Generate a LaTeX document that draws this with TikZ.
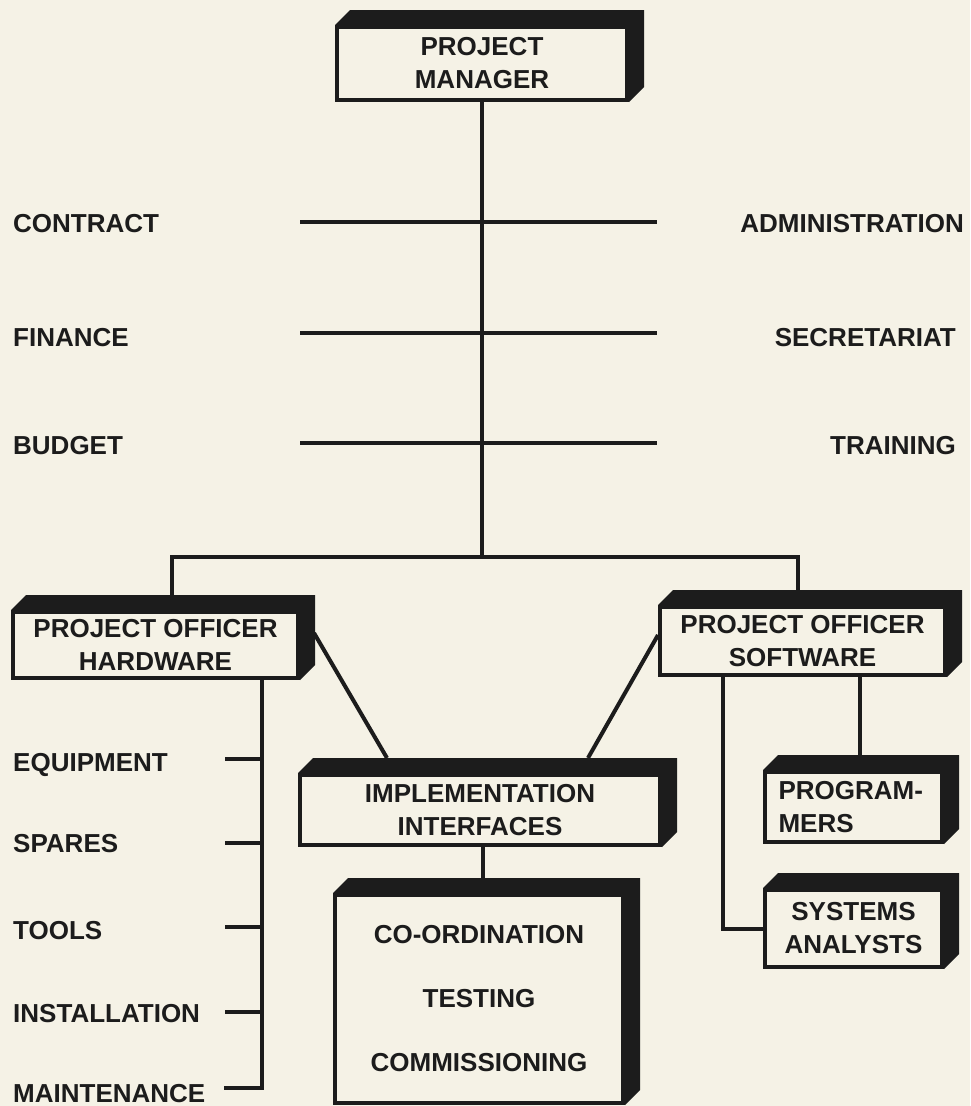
\documentclass[tikz,border=0pt]{standalone}
\usepackage{fontspec}
\setmainfont{Liberation Sans}
\definecolor{paper}{HTML}{F5F2E6}
\definecolor{ink}{HTML}{1C1C1C}
\tikzset{
  conn/.style={draw=ink, line width=4pt},
  orgbox/.style={draw=ink, fill=paper, line width=4pt, inner sep=0pt, align=center,
    text=ink, font=\bfseries\fontsize{26}{33}\selectfont},
  lbl/.style={inner sep=0pt, text=ink, font=\bfseries\fontsize{26}{31}\selectfont},
}
% black top and right face of a box
\newcommand{\slab}[1]{%
  \fill[ink] (#1.north west) -- ++(15,-15) -| ([shift={(15,-15)}]#1.south east)
    -- (#1.south east) -- (#1.north east) -- cycle;}

\begin{document}
\begin{tikzpicture}[x=1pt,y=-1pt]
  \fill[paper] (0,0) rectangle (970,1106);
  \useasboundingbox (0,0) rectangle (970,1106);

  % boxes
  \node[orgbox, minimum width=290, minimum height=73] (pm) at (482,63.5) {PROJECT\\MANAGER};
  \node[orgbox, minimum width=285, minimum height=66] (pohw) at (155.5,645) {PROJECT OFFICER\\HARDWARE};
  \node[orgbox, minimum width=285, minimum height=68] (posw) at (802.5,641) {PROJECT OFFICER\\SOFTWARE};
  \node[orgbox, minimum width=360, minimum height=70] (impl) at (480,810) {IMPLEMENTATION\\INTERFACES};
  \node[orgbox, minimum width=288, minimum height=208, font=\bfseries\fontsize{26}{64}\selectfont] (coord) at (479,999)
    {CO-ORDINATION\\TESTING\\COMMISSIONING};
  \node[orgbox, minimum width=177, minimum height=70, text width=150, align=left] (prog) at (853.5,807) {PROGRAM-\\MERS};
  \node[orgbox, minimum width=177, minimum height=77] (sysan) at (853.5,928.5) {SYSTEMS\\ANALYSTS};
  \slab{pm} \slab{pohw} \slab{posw} \slab{impl} \slab{coord} \slab{prog} \slab{sysan}

  % staff functions
  \node[lbl, anchor=base west] (contract) at (13,232) {CONTRACT};
  \node[lbl, anchor=base west] (finance) at (13,346) {FINANCE};
  \node[lbl, anchor=base west] (budget) at (13,454) {BUDGET};
  \node[lbl, anchor=base east] (admin) at (964,232) {ADMINISTRATION};
  \node[lbl, anchor=base east] (secret) at (956,346) {SECRETARIAT};
  \node[lbl, anchor=base east] (training) at (956,454) {TRAINING};
  \foreach \y in {222,333,443}
    \draw[conn] (300,\y) -- (657,\y);

  % hardware tasks
  \node[lbl, anchor=base west] (equip) at (13,771) {EQUIPMENT};
  \node[lbl, anchor=base west] (spares) at (13,852) {SPARES};
  \node[lbl, anchor=base west] (tools) at (13,939) {TOOLS};
  \node[lbl, anchor=base west] (install) at (13,1022) {INSTALLATION};
  \node[lbl, anchor=base west] (maint) at (13,1102) {MAINTENANCE};

  % connections
  \coordinate (barl) at (172,557);
  \coordinate (barr) at (798,557);
  \coordinate (hwx) at (262,0);
  \draw[conn] (pm.south) -- (pm.south |- barl);
  \draw[conn] (172,595) -- (barl) -- (barr) -- (798,591);
  \draw[conn] (pohw.south -| hwx) -- (262,1088) -- (224,1088);
  \foreach \y in {759,843,927,1012}
    \draw[conn] (225,\y) -- (262,\y);
  \draw[conn] ([xshift=14pt,yshift=12pt]pohw.east) -- ([xshift=-93pt,yshift=15pt]impl.north);
  \draw[conn] ([yshift=6pt]posw.west) -- ([xshift=108pt,yshift=15pt]impl.north);
  \draw[conn] ([xshift=3pt]impl.south) -- +(0,34);
  \draw[conn] ([xshift=-80pt]posw.south) |- (sysan.west);
  \draw[conn] ([xshift=57.5pt]posw.south) -- ([xshift=6.5pt,yshift=15pt]prog.north);
\end{tikzpicture}
\end{document}
